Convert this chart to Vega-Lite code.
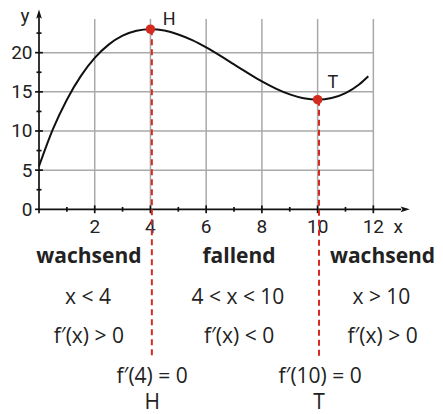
{
  "$schema": "https://vega.github.io/schema/vega-lite/v6.json",
  "width": 404,
  "height": 404,
  "autosize": {"type": "none"},
  "padding": {"left": 39, "top": 10, "right": 0, "bottom": 0},
  "background": "white",
  "config": {"view": {"stroke": null}},
  "datasets": {
    "hgrid": [
      {"x": 0, "x2": 12, "y": 5},
      {"x": 0, "x2": 12, "y": 10},
      {"x": 0, "x2": 12, "y": 15},
      {"x": 0, "x2": 12, "y": 20}
    ],
    "vgrid": [
      {"x": 2, "y": 0, "y2": 24.3},
      {"x": 4, "y": 0, "y2": 24.3},
      {"x": 6, "y": 0, "y2": 24.3},
      {"x": 8, "y": 0, "y2": 24.3},
      {"x": 10, "y": 0, "y2": 24.3},
      {"x": 12, "y": 0, "y2": 24.3}
    ],
    "lines": [
      {"x": 0, "x2": 13.0, "y": 0, "y2": 0},
      {"x": 0, "x2": 0, "y": -0.5, "y2": 24.6},
      {"x": 1, "x2": 1, "y": -0.3, "y2": 0.3},
      {"x": 2, "x2": 2, "y": -0.5, "y2": 0.5},
      {"x": 3, "x2": 3, "y": -0.3, "y2": 0.3},
      {"x": 4, "x2": 4, "y": -0.5, "y2": 0.5},
      {"x": 5, "x2": 5, "y": -0.3, "y2": 0.3},
      {"x": 6, "x2": 6, "y": -0.5, "y2": 0.5},
      {"x": 7, "x2": 7, "y": -0.3, "y2": 0.3},
      {"x": 8, "x2": 8, "y": -0.5, "y2": 0.5},
      {"x": 9, "x2": 9, "y": -0.3, "y2": 0.3},
      {"x": 10, "x2": 10, "y": -0.5, "y2": 0.5},
      {"x": 11, "x2": 11, "y": -0.3, "y2": 0.3},
      {"x": 12, "x2": 12, "y": -0.5, "y2": 0.5},
      {"x": -0.14, "x2": 0, "y": 0, "y2": 0},
      {"x": -0.09, "x2": 0.09, "y": 2.5, "y2": 2.5},
      {"x": -0.14, "x2": 0.14, "y": 5, "y2": 5},
      {"x": -0.09, "x2": 0.09, "y": 7.5, "y2": 7.5},
      {"x": -0.14, "x2": 0.14, "y": 10, "y2": 10},
      {"x": -0.09, "x2": 0.09, "y": 12.5, "y2": 12.5},
      {"x": -0.14, "x2": 0.14, "y": 15, "y2": 15},
      {"x": -0.09, "x2": 0.09, "y": 17.5, "y2": 17.5},
      {"x": -0.14, "x2": 0.14, "y": 20, "y2": 20},
      {"x": -0.09, "x2": 0.09, "y": 22.5, "y2": 22.5}
    ],
    "arrows": [
      {"x": 13.12, "y": 0, "a": 90},
      {"x": 0, "y": 24.85, "a": 0}
    ],
    "curve": [
      {"x": 0, "y": 5.5},
      {"x": 0.5, "y": 10.24},
      {"x": 1, "y": 14.0},
      {"x": 1.5, "y": 17.01},
      {"x": 2, "y": 19.33},
      {"x": 2.5, "y": 21.03},
      {"x": 3, "y": 22.17},
      {"x": 3.5, "y": 22.81},
      {"x": 4, "y": 23.0},
      {"x": 4.5, "y": 22.83},
      {"x": 5, "y": 22.33},
      {"x": 5.5, "y": 21.6},
      {"x": 6, "y": 20.67},
      {"x": 6.5, "y": 19.62},
      {"x": 7, "y": 18.5},
      {"x": 7.5, "y": 17.39},
      {"x": 8, "y": 16.33},
      {"x": 8.5, "y": 15.41},
      {"x": 9, "y": 14.67},
      {"x": 9.5, "y": 14.18},
      {"x": 10, "y": 14.0},
      {"x": 10.5, "y": 14.2},
      {"x": 11, "y": 14.83},
      {"x": 11.5, "y": 15.97},
      {"x": 11.82, "y": 16.99}
    ],
    "extrema": [
      {"x": 4, "y": 23.0, "xd": 4.05, "yb": -19.0, "t": "H", "lx": 4.67, "ly": 24.2},
      {"x": 10, "y": 14.0, "xd": 10.05, "yb": -19.0, "t": "T", "lx": 10.55, "ly": 16.1}
    ],
    "axislabels": [
      {"x": 2, "y": -2.3, "t": "2"},
      {"x": 4, "y": -2.3, "t": "4"},
      {"x": 6, "y": -2.3, "t": "6"},
      {"x": 8, "y": -2.3, "t": "8"},
      {"x": 10, "y": -2.3, "t": "10"},
      {"x": 12, "y": -2.3, "t": "12"},
      {"x": 12.89, "y": -2.3, "t": "x"},
      {"x": -0.5, "y": 24.7, "t": "y"}
    ],
    "boldtext": [
      {"x": 1.79, "y": -6.1, "t": "wachsend"},
      {"x": 7.18, "y": -6.1, "t": "fallend"},
      {"x": 12.33, "y": -6.1, "t": "wachsend"}
    ],
    "plaintext": [
      {"x": 1.76, "y": -11.3, "t": "x < 4"},
      {"x": 7.14, "y": -11.3, "t": "4 < x < 10"},
      {"x": 12.29, "y": -11.3, "t": "x > 10"},
      {"x": 1.79, "y": -16.3, "t": "f′(x) > 0"},
      {"x": 7.18, "y": -16.3, "t": "f′(x) < 0"},
      {"x": 12.33, "y": -16.3, "t": "f′(x) > 0"},
      {"x": 4.06, "y": -21.4, "t": "f′(4) = 0"},
      {"x": 10.09, "y": -21.4, "t": "f′(10) = 0"},
      {"x": 4.06, "y": -24.7, "t": "H"},
      {"x": 10.05, "y": -24.7, "t": "T"}
    ]
  },
  "encoding": {
    "x": {"field": "x", "type": "quantitative", "scale": {"domain": [0, 14.5], "nice": false, "zero": false}, "axis": null},
    "y": {"field": "y", "type": "quantitative", "scale": {"domain": [-26.14, 25.45], "nice": false, "zero": false},
      "axis": {"values": [0, 5, 10, 15, 20], "domain": false, "ticks": false, "grid": false, "labelPadding": 7, "labelFont": "Roboto", "labelFontSize": 19, "labelColor": "#222", "title": null}}
  },
  "layer": [
    {"data": {"name": "hgrid"}, "mark": {"type": "rule", "color": "#a9a9a9", "strokeWidth": 1.5}, "encoding": {"x2": {"field": "x2"}}},
    {"data": {"name": "vgrid"}, "mark": {"type": "rule", "color": "#a9a9a9", "strokeWidth": 1.5}, "encoding": {"y2": {"field": "y2"}}},
    {"data": {"name": "lines"}, "mark": {"type": "rule", "color": "#111", "strokeWidth": 1.7}, "encoding": {"x2": {"field": "x2"}, "y2": {"field": "y2"}}},
    {"data": {"name": "arrows"}, "mark": {"type": "point", "filled": true, "opacity": 1, "color": "#111", "size": 110, "shape": "M0,-1L0.55,0.75L0,0.4L-0.55,0.75Z"}, "encoding": {"angle": {"field": "a", "type": "quantitative", "scale": null}}},
    {"data": {"name": "curve"}, "mark": {"type": "line", "color": "#111", "strokeWidth": 2, "interpolate": "monotone"}, "encoding": {}},
    {"data": {"name": "axislabels"}, "mark": {"type": "text", "font": "Roboto", "fontSize": 19, "color": "#222", "baseline": "middle", "align": "center"}, "encoding": {"text": {"field": "t"}}},
    {"data": {"name": "extrema"}, "mark": {"type": "rule", "color": "#d42a20", "strokeWidth": 2, "strokeDash": [6, 4]}, "encoding": {"x": {"field": "xd", "type": "quantitative"}, "y2": {"field": "yb"}}},
    {"data": {"name": "extrema"}, "mark": {"type": "point", "filled": true, "opacity": 1, "color": "#d42a20", "size": 90}, "encoding": {}},
    {"data": {"name": "extrema"}, "mark": {"type": "text", "font": "Roboto", "fontSize": 18, "color": "#222", "baseline": "middle", "align": "center"}, "encoding": {"x": {"field": "lx", "type": "quantitative"}, "y": {"field": "ly", "type": "quantitative"}, "text": {"field": "t"}}},
    {"data": {"name": "boldtext"}, "mark": {"type": "text", "font": "Open Sans", "fontWeight": "bold", "fontSize": 21, "color": "#222", "baseline": "middle", "align": "center"}, "encoding": {"text": {"field": "t"}}},
    {"data": {"name": "plaintext"}, "mark": {"type": "text", "font": "Open Sans", "fontSize": 21, "color": "#222", "baseline": "middle", "align": "center"}, "encoding": {"text": {"field": "t"}}}
  ]
}
